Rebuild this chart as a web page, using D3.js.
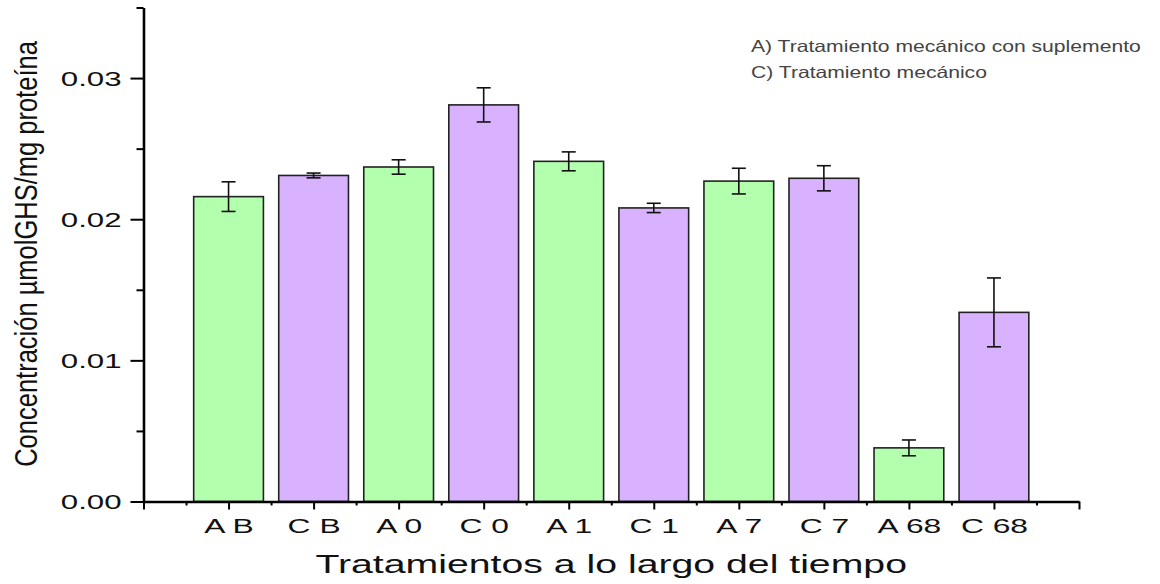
<!DOCTYPE html>
<html>
<head>
<meta charset="utf-8">
<script src="https://cdn.jsdelivr.net/npm/d3@7"></script>
<style>
  html, body { margin: 0; padding: 0; background: #ffffff; }
  svg { display: block; }
  text { font-family: "Liberation Sans", Arial, sans-serif; }
</style>
</head>
<body>
<svg id="chart" width="1160" height="584"></svg>
<script>
// Treatments over time: A = mechanical + supplement, C = mechanical only
const categories = ["A B", "C B", "A 0", "C 0", "A 1", "C 1", "A 7", "C 7", "A 68", "C 68"];
const groups     = ["A", "C", "A", "C", "A", "C", "A", "C", "A", "C"];
const means      = [0.0216, 0.0231, 0.0237, 0.0281, 0.0241, 0.0208, 0.0227, 0.0229, 0.0038, 0.0134];
const errors     = [0.00105, 0.00017, 0.00051, 0.00121, 0.00067, 0.00033, 0.00091, 0.00089, 0.00056, 0.00244];
const yTicks     = [0, 0.01, 0.02, 0.03];
const yMinor     = [0.005, 0.015, 0.025, 0.035];
const legendText = ["A) Tratamiento mecánico con suplemento", "C) Tratamiento mecánico"];
const xTitle     = "Tratamientos a lo largo del tiempo";
const yTitle     = "Concentración µmolGHS/mg proteína";

const fillFor = { A: "#b2ffae", C: "#d9b2ff" };

const svg = d3.select("#chart");

// Categories sit at positions 1..n on a linear axis spanning 0..n+1
const x = d3.scaleLinear().domain([0, categories.length + 1]).range([143.5, 1079]);
const y = d3.scaleLinear().domain([0, 0.035]).range([501.5, 7.5]);
const barW = (x(1) - x(0)) * 0.82;

// stretch a text along its reading direction by a factor using textLength
function stretch(sel, factor) {
  sel.each(function () {
    const w = this.getComputedTextLength();
    d3.select(this).attr("textLength", w * factor).attr("lengthAdjust", "spacingAndGlyphs");
  });
}

// Bars
svg.append("g").selectAll("rect")
  .data(means)
  .join("rect")
  .attr("x", (d, i) => x(i + 1) - barW / 2)
  .attr("y", d => y(d))
  .attr("width", barW)
  .attr("height", d => y(0) - y(d))
  .attr("fill", (d, i) => fillFor[groups[i]])
  .attr("stroke", "#222")
  .attr("stroke-width", 1.6);

// Error bars
const eb = svg.append("g").attr("stroke", "#111").attr("stroke-width", 1.6).attr("fill", "none");
const capHalf = 7;
means.forEach((m, i) => {
  const cx = x(i + 1);
  const top = y(m + errors[i]);
  const bot = y(m - errors[i]);
  eb.append("line").attr("x1", cx).attr("x2", cx).attr("y1", top).attr("y2", bot);
  eb.append("line").attr("x1", cx - capHalf).attr("x2", cx + capHalf).attr("y1", top).attr("y2", top);
  eb.append("line").attr("x1", cx - capHalf).attr("x2", cx + capHalf).attr("y1", bot).attr("y2", bot);
});

// Y axis: minor ticks then major ticks with labels
svg.append("g")
  .attr("transform", `translate(${x(0)},0)`)
  .call(d3.axisLeft(y).tickValues(yMinor).tickSize(7).tickFormat(""))
  .call(g => g.select(".domain").remove())
  .call(g => g.selectAll(".tick line").attr("stroke", "#000").attr("stroke-width", 2));

const yAxis = svg.append("g")
  .attr("transform", `translate(${x(0)},0)`)
  .call(d3.axisLeft(y).tickValues(yTicks).tickSize(13).tickSizeOuter(0).tickPadding(9).tickFormat(d3.format(".2f")));
yAxis.select(".domain").attr("stroke", "#000").attr("stroke-width", 2.6);
yAxis.selectAll(".tick line").attr("stroke", "#000").attr("stroke-width", 2);
yAxis.selectAll(".tick text")
  .attr("fill", "#111")
  .style("font-size", "19.5px")
  .attr("dy", "0.36em")
  .call(stretch, 1.6);

// X axis: minor ticks at half positions, major ticks at integer positions
const xMinor = d3.range(0.5, categories.length + 1, 1);
svg.append("g")
  .attr("transform", `translate(0,${y(0)})`)
  .call(d3.axisBottom(x).tickValues(xMinor).tickSize(4).tickFormat(""))
  .call(g => g.select(".domain").remove())
  .call(g => g.selectAll(".tick line").attr("stroke", "#000").attr("stroke-width", 2));

const xAxis = svg.append("g")
  .attr("transform", `translate(0,${y(0)})`)
  .call(d3.axisBottom(x)
    .tickValues(d3.range(0, categories.length + 2))
    .tickSize(8).tickSizeOuter(0).tickPadding(9)
    .tickFormat(i => categories[i - 1] || ""));
xAxis.select(".domain").attr("stroke", "#000").attr("stroke-width", 2.6);
xAxis.selectAll(".tick line").attr("stroke", "#000").attr("stroke-width", 2);
xAxis.selectAll(".tick text")
  .attr("fill", "#111")
  .style("font-size", "20.5px")
  .attr("dy", "0.72em")
  .call(stretch, 1.55);

// Axis titles
svg.append("text")
  .attr("x", (x(0) + x(categories.length + 1)) / 2)
  .attr("y", 573)
  .attr("text-anchor", "middle")
  .attr("fill", "#111")
  .style("font-size", "26.5px")
  .text(xTitle)
  .call(stretch, 1.48);

// Rotated y title: narrow letterforms drawn by widening the glyph height on screen
svg.append("g")
  .attr("transform", "translate(36.5,254) scale(1.23,1)")
  .append("text")
  .attr("transform", "rotate(-90)")
  .attr("text-anchor", "middle")
  .attr("fill", "#111")
  .style("font-size", "25.5px")
  .text(yTitle);

// Legend text
svg.append("g").selectAll("text")
  .data(legendText)
  .join("text")
  .attr("x", 751)
  .attr("y", (d, i) => 52 + i * 26)
  .attr("fill", "#444")
  .style("font-size", "16.5px")
  .text(d => d)
  .call(stretch, 1.28);
</script>
</body>
</html>
